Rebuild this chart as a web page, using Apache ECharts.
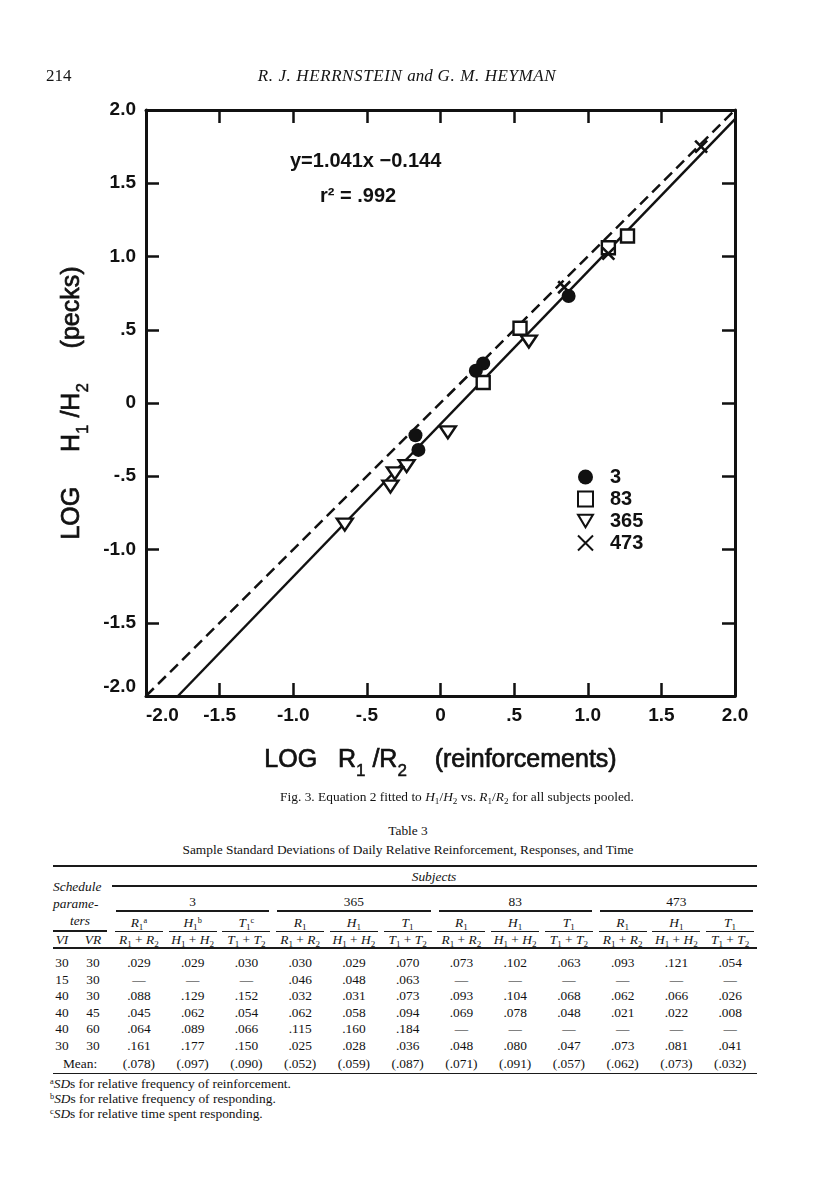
<!DOCTYPE html>
<html><head><meta charset="utf-8">
<script src="https://cdn.jsdelivr.net/npm/echarts@6/dist/echarts.min.js"></script>
<style>
body{margin:0;background:#fff;width:816px;height:1200px;position:relative;overflow:hidden;font-family:'Liberation Serif',serif;color:#121212;}
.t{position:absolute;white-space:nowrap;line-height:1;}
#chart{position:absolute;left:0;top:0;width:816px;height:790px;}
.rule{position:absolute;background:#1a1a1a;}
sub{font-size:68%;vertical-align:-0.28em;line-height:0}
sup{font-size:62%;vertical-align:0.5em;line-height:0}
</style></head><body>
<div id="chart"></div>
<script>
// ---------- chart data ----------
const tickValues = [-2, -1.5, -1, -0.5, 0, 0.5, 1, 1.5, 2];
const xTickLabels = ['-2.0', '-1.5', '-1.0', '-.5', '0', '.5', '1.0', '1.5', '2.0'];
const yTickLabels = ['-2.0', '-1.5', '-1.0', '-.5', '0', '.5', '1.0', '1.5', '2.0'];
const subjectNames = ['3', '83', '365', '473'];
const subj3   = [[0.87, 0.73], [0.29, 0.27], [0.24, 0.22], [-0.17, -0.22], [-0.15, -0.32]];
const subj83  = [[1.27, 1.14], [1.14, 1.06], [0.54, 0.51], [0.29, 0.14]];
const subj365 = [[0.60, 0.42], [0.05, -0.20], [-0.23, -0.43], [-0.31, -0.48], [-0.34, -0.57], [-0.65, -0.83]];
const subj473 = [[1.77, 1.75], [1.14, 1.02], [0.84, 0.79]];
const matchLine = [[-2, -2], [2, 2]];
const fitSlope = 1.041, fitIntercept = -0.144;
const fitLine = [[(-2 - fitIntercept) / fitSlope, -2], [2, fitSlope * 2 + fitIntercept]];
const equationText = 'y=1.041x \u22120.144';
const r2Text = 'r\u00B2 = .992';

// ---------- table data ----------
const tableSubjects = ['3', '365', '83', '473'];
const scheduleVI = ['30', '15', '40', '40', '40', '30'];
const scheduleVR = ['30', '30', '30', '45', '60', '30'];
const tableValues = [
  ['.029', '.029', '.030', '.030', '.029', '.070', '.073', '.102', '.063', '.093', '.121', '.054'],
  [null, null, null, '.046', '.048', '.063', null, null, null, null, null, null],
  ['.088', '.129', '.152', '.032', '.031', '.073', '.093', '.104', '.068', '.062', '.066', '.026'],
  ['.045', '.062', '.054', '.062', '.058', '.094', '.069', '.078', '.048', '.021', '.022', '.008'],
  ['.064', '.089', '.066', '.115', '.160', '.184', null, null, null, null, null, null],
  ['.161', '.177', '.150', '.025', '.028', '.036', '.048', '.080', '.047', '.073', '.081', '.041']
];
const tableMeans = ['(.078)', '(.097)', '(.090)', '(.052)', '(.059)', '(.087)', '(.071)', '(.091)', '(.057)', '(.062)', '(.073)', '(.032)'];
const measureLetters = ['R', 'H', 'T'];
const footMarks = ['a', 'b', 'c'];
const footnotes = ['for relative frequency of reinforcement.', 'for relative frequency of responding.', 'for relative time spent responding.'];

// ---------- chart ----------
const INK = '#111111';
const axisLine = {onZero: false, lineStyle: {color: INK, width: 3}};
const axisTick = {show: true, inside: true, length: 13, lineStyle: {color: INK, width: 2.5}};
const idx = v => Math.round((v + 2) * 2);
const labelStyle = {fontSize: 19, fontWeight: 'bold', fontFamily: 'Liberation Sans', color: INK};
const nameStyle = {
  fontSize: 25, fontFamily: 'Liberation Sans', color: INK, lineHeight: 40,
  textBorderColor: INK, textBorderWidth: 0.7,
  rich: {
    n: {fontSize: 25, fontFamily: 'Liberation Sans', color: INK, lineHeight: 40, textBorderColor: INK, textBorderWidth: 0.7},
    s: {fontSize: 17, fontFamily: 'Liberation Sans', color: INK, lineHeight: 17, verticalAlign: 'bottom', textBorderColor: INK, textBorderWidth: 0.5}
  }
};
const markerStyle = {color: '#fff', borderColor: INK, borderWidth: 2.4, opacity: 1};

const chart = echarts.init(document.getElementById('chart'), null, {renderer: 'canvas'});
chart.setOption({
  animation: false,
  grid: {left: 146, top: 110, width: 589, height: 586},
  xAxis: [{
    type: 'value', min: -2, max: 2, interval: 0.5, position: 'bottom',
    axisLine, axisTick, splitLine: {show: false},
    axisLabel: Object.assign({formatter: v => xTickLabels[idx(v)], margin: 10, alignMinLabel: 'left'}, labelStyle),
    name: '{n|LOG   R}{s|1}{n| /R}{s|2}{n|    (reinforcements)}',
    nameLocation: 'middle', nameGap: 44, nameTextStyle: nameStyle
  }, {
    type: 'value', min: -2, max: 2, interval: 0.5, position: 'top',
    axisLine, axisTick, splitLine: {show: false}, axisLabel: {show: false}
  }],
  yAxis: [{
    type: 'value', min: -2, max: 2, interval: 0.5, position: 'left',
    axisLine, axisTick, splitLine: {show: false},
    axisLabel: Object.assign({formatter: v => yTickLabels[idx(v)], margin: 10, verticalAlignMinLabel: 'bottom'}, labelStyle),
    name: '{n|LOG     H}{s|1}{n| /H}{s|2}{n|     (pecks)}',
    nameLocation: 'middle', nameGap: 54, nameRotate: 90, nameTextStyle: nameStyle
  }, {
    type: 'value', min: -2, max: 2, interval: 0.5, position: 'right',
    axisLine, axisTick, splitLine: {show: false}, axisLabel: {show: false}
  }],
  legend: {
    data: subjectNames, orient: 'vertical', left: 572, top: 462,
    itemWidth: 15, itemHeight: 15, itemGap: 2,
    textStyle: {fontSize: 20, fontWeight: 'bold', fontFamily: 'Liberation Sans', color: INK, padding: [0, 0, 0, 12]}
  },
  graphic: [
    {type: 'text', left: 290, top: 151, style: {text: equationText, font: 'bold 20px "Liberation Sans"', fill: INK}},
    {type: 'text', left: 320, top: 186, style: {text: r2Text, font: 'bold 20px "Liberation Sans"', fill: INK}}
  ],
  series: [
    {type: 'line', data: matchLine, symbol: 'none', z: 2, silent: true,
      lineStyle: {color: INK, width: 2.5, type: [11, 6], opacity: 1}},
    {type: 'line', data: fitLine, symbol: 'none', z: 2, silent: true,
      lineStyle: {color: INK, width: 2.5, type: 'solid', opacity: 1}},
    {name: '3', type: 'scatter', data: subj3, symbol: 'circle', symbolSize: 14, z: 4,
      itemStyle: {color: INK, borderColor: INK, borderWidth: 0, opacity: 1}},
    {name: '83', type: 'scatter', data: subj83, symbol: 'rect', symbolSize: 13, z: 3, itemStyle: markerStyle},
    {name: '365', type: 'scatter', data: subj365, symbol: 'path://M0,0L20,0L10,17Z', symbolSize: [16, 14],
      symbolKeepAspect: true, z: 3, itemStyle: markerStyle},
    {name: '473', type: 'scatter', data: subj473, symbol: 'path://M0,0L10,10M10,0L0,10', symbolSize: 12, z: 3,
      itemStyle: {color: 'rgba(255,255,255,0)', borderColor: INK, borderWidth: 2.6, opacity: 1}}
  ]
});

// ---------- page text & table ----------
const FS = 13.4;
function T(html, x, y, o) {
  o = o || {};
  const d = document.createElement('div');
  d.className = 't';
  d.innerHTML = html;
  d.style.left = x + 'px';
  d.style.top = y + 'px';
  d.style.fontSize = (o.size || FS) + 'px';
  const a = o.align || 'center';
  d.style.transform = a === 'center' ? 'translate(-50%,-50%)' : a === 'left' ? 'translate(0,-50%)' : 'translate(-100%,-50%)';
  if (o.italic) d.style.fontStyle = 'italic';
  if (o.ls) d.style.letterSpacing = o.ls + 'px';
  document.body.appendChild(d);
}
function R(x1, x2, y, h) {
  const d = document.createElement('div');
  d.className = 'rule';
  d.style.left = x1 + 'px'; d.style.width = (x2 - x1) + 'px';
  d.style.top = (y - h / 2) + 'px'; d.style.height = h + 'px';
  document.body.appendChild(d);
}

T('214', 46, 75, {align: 'left', size: 17});
T('R. J. HERRNSTEIN <span style="letter-spacing:0">and</span> G. M. HEYMAN', 407, 75, {size: 17, italic: true, ls: 0.6});
T('Fig. 3. Equation 2 fitted to <i>H</i><sub>1</sub>/<i>H</i><sub>2</sub> vs. <i>R</i><sub>1</sub>/<i>R</i><sub>2</sub> for all subjects pooled.', 457, 797);
T('Table 3', 408, 831);
T('Sample Standard Deviations of Daily Relative Reinforcement, Responses, and Time', 408, 850);

const TL = 53, TR = 757, C0 = 112, CW = (TR - C0) / 12;
const colX = i => C0 + CW * (i + 0.5);
R(TL, TR, 866, 1.6);
T('Subjects', 434, 877, {italic: true});
R(C0, TR, 886, 1.2);
T('Schedule', TL, 887, {align: 'left', italic: true});
T('parame-', TL, 904, {align: 'left', italic: true});
T('ters', 80, 921, {italic: true});
R(TL, 107, 931, 1.2);
T('VI', 62, 940, {italic: true});
T('VR', 93, 940, {italic: true});

tableSubjects.forEach((s, g) => {
  const gx1 = C0 + g * 3 * CW, gx2 = gx1 + 3 * CW;
  T(s, (gx1 + gx2) / 2, 902);
  R(gx1 + 4, gx2 - 4, 911, 1.2);
  measureLetters.forEach((m, k) => {
    const i = g * 3 + k;
    const sup = g === 0 ? '<sup>' + footMarks[k] + '</sup>' : '';
    T('<i>' + m + '</i><sub>1</sub>' + sup, colX(i), 923);
    R(colX(i) - 24, colX(i) + 24, 931, 1);
    T('<i>' + m + '</i><sub>1</sub> + <i>' + m + '</i><sub>2</sub>', colX(i), 940);
  });
});
R(TL, TR, 948, 2.2);

const rowY = [963, 979.5, 996, 1012.5, 1029, 1045.5];
tableValues.forEach((row, r) => {
  T(scheduleVI[r], 62, rowY[r]);
  T(scheduleVR[r], 93, rowY[r]);
  row.forEach((v, i) => T(v === null ? '\u2014' : v, colX(i), rowY[r]));
});
T('Mean:', 80, 1064);
tableMeans.forEach((v, i) => T(v, colX(i), 1064));
R(TL, TR, 1073.5, 1.6);

footnotes.forEach((f, k) => {
  T('<sup>' + footMarks[k] + '</sup><i>SD</i>s ' + f, 50, 1083.5 + k * 15, {align: 'left'});
});
</script>
</body></html>
